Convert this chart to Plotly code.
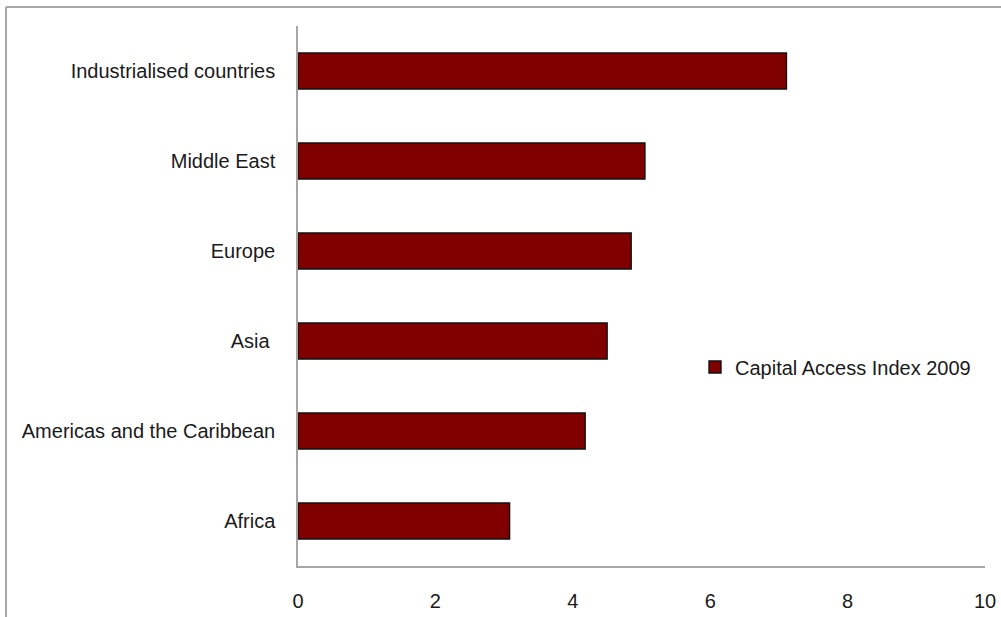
import plotly.graph_objects as go

# Capital Access Index 2009 by region
regions = ["Africa", "Americas and the Caribbean", "Asia ", "Europe",
           "Middle East", "Industrialised countries"]
index_2009 = [3.08, 4.18, 4.50, 4.85, 5.05, 7.11]
x_ticks = [0, 2, 4, 6, 8, 10]

W, H = 1001, 617
left, right, top, bottom = 298, 16, 26, 51
plot_w = W - left - right
plot_h = H - top - bottom

font_family = "Liberation Sans Narrow, Arial Narrow, Liberation Sans, sans-serif"
axis_grey = "#a6a6a6"

fig = go.Figure()
fig.add_trace(go.Bar(
    y=regions, x=index_2009, orientation="h",
    name="Capital Access Index 2009",
    marker=dict(color="#800000", line=dict(color="#111111", width=1.4)),
    width=0.4,
))

# outer chart frame (top and left edges visible)
fx0 = (6 - left) / plot_w
fy1 = 1 + (top - 7) / plot_h
fig.add_shape(type="line", xref="paper", yref="paper",
              x0=fx0, x1=(W + 5 - left) / plot_w, y0=fy1, y1=fy1,
              line=dict(color=axis_grey, width=2))
fig.add_shape(type="line", xref="paper", yref="paper",
              x0=fx0, x1=fx0, y0=-(bottom + 5) / plot_h, y1=fy1,
              line=dict(color=axis_grey, width=2))

fig.update_layout(
    width=W, height=H,
    margin=dict(l=left, r=right, t=top, b=bottom, pad=0),
    paper_bgcolor="white", plot_bgcolor="white",
    font=dict(family=font_family, size=20, color="#1a1a1a"),
    bargap=0.6,
    showlegend=True,
    legend=dict(x=(695 - left) / plot_w, y=(H - bottom - 367) / plot_h,
                xanchor="left", yanchor="middle",
                font=dict(family=font_family, size=20, color="#1a1a1a"),
                bgcolor="rgba(0,0,0,0)", itemwidth=30,
                tracegroupgap=0),
    xaxis=dict(range=[0, 10], tickvals=x_ticks, showgrid=False,
               zeroline=False, showline=True, linecolor=axis_grey,
               linewidth=1.5, ticks="", ticklen=0, automargin=False,
               ticklabelstandoff=16, tickfont=dict(size=20)),
    yaxis=dict(showgrid=False, zeroline=False, showline=True,
               linecolor=axis_grey, linewidth=1.5, ticks="",
               automargin=False,
               ticklabelstandoff=17, tickfont=dict(size=20),
               range=[-0.5, 5.5]),
)

fig.write_html("out.html")
